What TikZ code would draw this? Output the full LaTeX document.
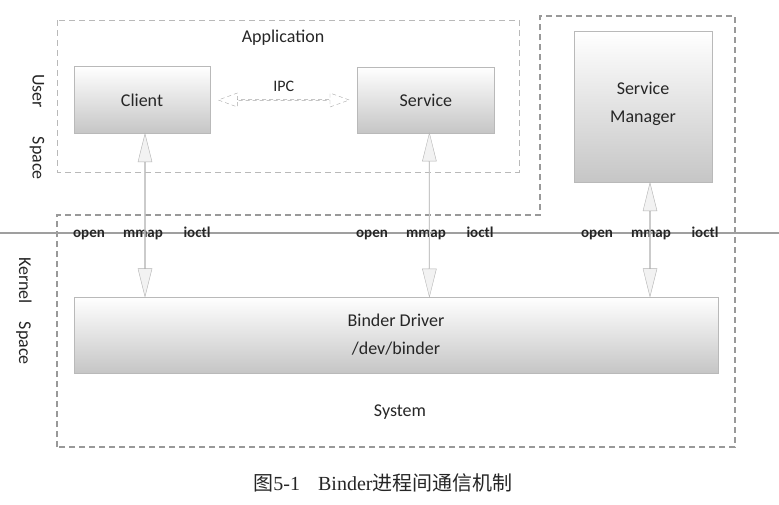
\documentclass[tikz,border=0pt]{standalone}
\usepackage{fontspec}
\setmainfont{Carlito}
\newfontfamily\cjkfont{Noto Sans CJK SC}
\newfontfamily\capfont{Liberation Serif}
\usepackage{tikz}
\usetikzlibrary{
        arrows,
        calc,
        positioning,
        shapes.arrows
    }
\tikzset{soft box/.style={draw=gray!55,top color=white,middle color=white!92!gray,bottom color=gray!45,align=center,font=\fontsize{18}{28}\selectfont}}
\tikzset{space line/.style={draw=gray!80,dash pattern=on 6pt off 4pt,line width=1.1pt}}
\tikzset{call arrow/.style={double arrow,draw=gray!60,fill=gray!10,inner sep=0pt,minimum width=14pt,double arrow head extend=3.5pt,double arrow tip angle=28,shape border rotate=90}}
\tikzset{ipc arrow/.style={double arrow,draw=gray!70,dash pattern=on 4pt off 3pt,inner sep=0pt,minimum width=14pt,double arrow head extend=3.5pt,double arrow tip angle=40}}
\tikzset{sys call/.style={font=\fontsize{15}{15}\selectfont\bfseries,inner sep=0pt,anchor=base}}

\begin{document}
\begin{tikzpicture}[x=1pt,y=-1pt,every node/.style={text=black!85},font=\fontsize{18}{28}\selectfont]
    \useasboundingbox (0,0) rectangle (779,504);
    % user space
    \draw[space line,draw=gray!55,line width=0.9pt] (57,20) rectangle (519,172);
    \node (app) at (283,38) {Application};
    \node[soft box][minimum width=136pt,minimum height=67pt] (client) at (142,100) {Client};
    \node[soft box][minimum width=137pt,minimum height=66pt] (service) [right=147pt of client] {Service};
    \node[soft box][minimum width=138pt,minimum height=151pt,text depth=9pt] (manager) at (643,107) {Service\\Manager};
    \node[rotate=-90] (user) at (37,127) {User\hspace{29pt}Space};
    % kernel space
    \draw[space line] (57,447) -- (57,215) -- (540,215) -- (540,16) -- (735,16) -- (735,447) -- cycle;
    \draw[gray!75,line width=1.8pt] (0,233) -- (779,233);
    \node[rotate=-90] (kernel) at (24,311) {Kernel\hspace{18pt}Space};
    \node[soft box][minimum width=644pt,minimum height=76pt] (driver) at (396,335) {Binder Driver\\/dev/binder};
    \node (system) at (400,412) {System};
    \foreach \x [count=\i] in {89,372,597} {
        \node[sys call] (open\i) at (\x,237) {open};
        \node[sys call] (mmap\i) at (\x+54,237) {mmap};
        \node[sys call] (ioctl\i) at (\x+108,237) {ioctl};
    }
    % calls
    \node[ipc arrow,minimum height=131pt] (ipc) at ($(client.east)!.5!(service.west)$) {};
    \node[font=\fontsize{16}{16}\selectfont] (ipclabel) [above=4pt of ipc] {IPC};
    \node[call arrow,minimum height=163pt,xshift=3pt] (clientcall) at ($(client.south)!.5!(client.south |- driver.north)$) {};
    \node[call arrow,minimum height=164pt,xshift=3.5pt] (servicecall) at ($(service.south)!.5!(service.south |- driver.north)$) {};
    \node[call arrow,minimum height=114pt,xshift=7pt] (managercall) at ($(manager.south)!.5!(manager.south |- driver.north)$) {};
    % caption
    \node[font=\fontsize{20}{20}\selectfont] (caption) at (383,483) {{\cjkfont 图}{\capfont 5-1\hspace{18pt}Binder}{\cjkfont 进程间通信机制}};
\end{tikzpicture}
\end{document}
